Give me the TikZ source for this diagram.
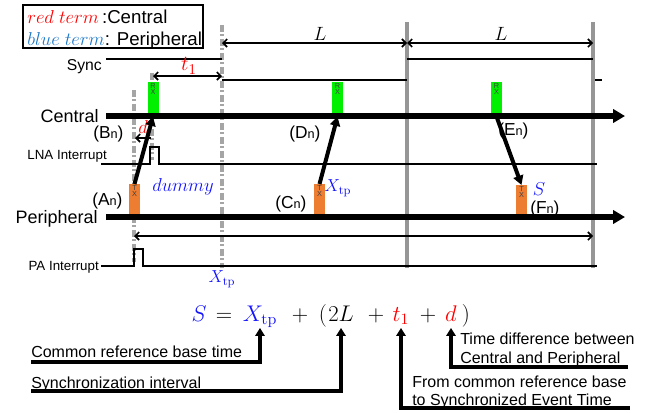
\RequirePackage{fix-cm}
\documentclass[tikz,border=0pt]{standalone}
\usepackage[no-math]{fontspec}
\setmainfont{Liberation Sans}
\usetikzlibrary{arrows.meta}
\definecolor{rxgreen}{RGB}{0,240,0}
\definecolor{txorange}{RGB}{237,125,49}
\definecolor{lgblue}{RGB}{30,120,200}
\definecolor{eqblue}{RGB}{20,20,255}
\definecolor{dgray}{RGB}{165,165,165}
\definecolor{sgray}{RGB}{150,150,150}
\newcommand{\myfs}[2]{\fontsize{#1}{#2}\selectfont}
\newcommand{\subn}{{\myfs{9.5}{10}n}}
\begin{document}
\begin{tikzpicture}[x=0.75pt,y=-0.75pt,
  timeline/.style={line width=3.8pt,-{Triangle[length=9pt,width=10pt]}},
  thinline/.style={line width=1.3pt},
  dimarrow/.style={line width=1.2pt,{Straight Barb[length=3pt,width=6pt]}-{Straight Barb[length=3pt,width=6pt]}},
  leftarrow/.style={line width=1.2pt,-{Straight Barb[length=3pt,width=6pt]}},
  dashgray/.style={draw=dgray,line width=2.3pt,dash pattern=on 5pt off 2pt on 1.5pt off 2pt},
  solidgray/.style={draw=sgray,line width=2.3pt},
  rxbox/.style={fill=rxgreen,minimum width=8.25pt,minimum height=25.5pt,anchor=north,inner sep=0pt},
  txbox/.style={fill=txorange,minimum width=8.25pt,minimum height=24.75pt,anchor=north,inner sep=0pt},
  boxtext/.style={font=\myfs{5.5}{5},text=black!75,align=center,inner sep=0.6pt,anchor=north},
  bigarrow/.style={line width=3pt,-{Triangle[length=7pt,width=7.5pt]}},
  annarrow/.style={line width=3pt,-{Triangle[length=6pt,width=7pt]}},
  lanelabel/.style={font=\myfs{13.5}{15},anchor=base east,inner sep=0pt},
  siglabel/.style={font=\myfs{10}{11},anchor=base east,inner sep=0pt},
  ptlabel/.style={font=\myfs{13}{14},anchor=base west,inner sep=0pt},
  annotext/.style={font=\myfs{12}{13},anchor=base west,inner sep=0pt},
  legtext/.style={font=\myfs{14}{15},anchor=base west,inner sep=0pt},
  eqterm/.style={font=\myfs{17}{19},anchor=base,inner sep=0.5pt,text depth=4.5pt}
]
\useasboundingbox (0,0) rectangle (649,412);

% legend
\draw[line width=1.5pt] (23,5) rectangle (203,48);
\node[legtext] (leg1) at (27,23) {\textcolor{red}{$red\ term$}\,:Central};
\node[legtext] (leg2) at (27,45) {\textcolor{lgblue}{$blue\ term$}: Peripheral};

% vertical reference lines
\draw[dashgray] (134,90) -- (134,262);
\draw[dashgray] (152,73) -- (152,160);
\draw[dashgray] (222,25) -- (222,268);
\draw[solidgray] (407,22) -- (407,268);
\draw[solidgray] (593,22) -- (593,268);

% sync signal
\node[font=\myfs{11.8}{13},anchor=base east,inner sep=0pt] (sync) at (102,70) {Sync};
\draw[thinline] (106,59) -- (222,59);
\draw[thinline] (222,80) -- (407,80);
\draw[thinline] (407,59) -- (593,59);
\draw[thinline] (595,80) -- (602,80);

% dimensions
\coordinate (L1a) at (222,43); \coordinate (L1b) at (407,43); \coordinate (L2b) at (593,43);
\draw[dimarrow] (L1a) -- (L1b);
\draw[dimarrow] (L1b) -- (L2b);
\node[font=\myfs{14.4}{15}] (Llab1) at (320,34) {$L$};
\node[font=\myfs{14.4}{15}] (Llab2) at (501,34) {$L$};
\coordinate (t1a) at (153,76); \coordinate (t1b) at (222,76);
\draw[dimarrow] (t1a) -- (t1b);
\node[font=\myfs{16}{17},text=red] (t1lab) at (189,66) {$t_1$};
\coordinate (da) at (151,138); \coordinate (db) at (135,138);
\draw[leftarrow] (da) -- (db);
\node[font=\myfs{14}{15},text=red] (dlab) at (143,127) {$d$};
\coordinate (ba) at (134,236); \coordinate (bb) at (593,236);
\draw[dimarrow] (ba) -- (bb);

% interrupt signals
\node[siglabel] (lna) at (107,159) {LNA Interrupt};
\draw[thinline] (101,164) -- (150,164) -- (150,147) -- (159,147) -- (159,164) -- (597,164);
\node[siglabel] (pa) at (99,270) {PA Interrupt};
\draw[thinline] (101,266) -- (134,266) -- (134,249) -- (143,249) -- (143,266) -- (597,266);

% boxes
\node[rxbox,label={[boxtext]north:{R\\X}}] (rx1) at (153,82) {};
\node[rxbox,label={[boxtext]north:{R\\X}}] (rx2) at (337.5,82) {};
\node[rxbox,label={[boxtext]north:{R\\X}}] (rx3) at (496.5,82) {};
\node[txbox,label={[boxtext]north:{T\\X}}] (tx1) at (134.5,184) {};
\node[txbox,label={[boxtext]north:{T\\X}}] (tx2) at (319.5,184) {};
\node[txbox,label={[boxtext]north:{T\\X}}] (tx3) at (521.5,185) {};

% timelines
\node[lanelabel] (central) at (99,122) {Central};
\node[lanelabel] (periph) at (98,223) {Peripheral};
\draw[timeline] (106,116) -- (625,116);
\draw[timeline] (106,217) -- (625,217);

% messages
\draw[bigarrow] (tx1.north) -- (rx1.south);
\draw[bigarrow] (tx2.north) -- (rx2.south);
\draw[bigarrow] (rx3.south) -- (tx3.north);

% point labels
\node[ptlabel] (Bn) at (93,138) {(B\subn)};
\node[ptlabel] (An) at (92,205) {(A\subn)};
\node[ptlabel] (Dn) at (289,138) {(D\subn)};
\node[ptlabel] (Cn) at (275,208) {(C\subn)};
\node[ptlabel] (En) at (498,135) {(E\subn)};
\node[ptlabel] (Fn) at (530,213) {(F\subn)};
\node[font=\myfs{14}{15},text=eqblue] (dummy) at (183,187) {$dummy$};
\node[font=\myfs{13}{14},text=eqblue] (xtpC) at (338,188) {$X_{\mathrm{tp}}$};
\node[font=\myfs{14}{15},text=eqblue] (sF) at (539,189) {$S$};
\node[font=\myfs{13}{14},text=eqblue] (xtpB) at (222,279) {$X_{\mathrm{tp}}$};

% equation
\node[eqterm,text=eqblue] (eqS) at (199,321) {$S$};
\node[eqterm] (eqEq) at (224,321) {$=$};
\node[eqterm,text=eqblue] (eqX) at (260,321) {$X_{\mathrm{tp}}$};
\node[eqterm] (eqP1) at (300,321) {$+$};
\node[eqterm] (eqOpen) at (323,321) {$($};
\node[eqterm] (eqTwoL) at (341,321) {$2L$};
\node[eqterm] (eqP2) at (376,321) {$+$};
\node[eqterm,text=red] (eqT) at (401,321) {$t_1$};
\node[eqterm] (eqP3) at (428,321) {$+$};
\node[eqterm,text=red] (eqD) at (451,321) {$d$};
\node[eqterm] (eqClose) at (466,321) {$)$};

% annotations
\node[annotext] (ann1) at (31,357) {Common reference base time};
\node[annotext] (ann2) at (31,388) {Synchronization interval};
\node[annotext] (ann3a) at (412,387) {From common reference base};
\node[annotext] (ann3b) at (412,405) {to Synchronized Event Time};
\node[annotext] (ann4a) at (460,344) {Time difference between};
\node[annotext] (ann4b) at (460,363) {Central and Peripheral};
\coordinate (a1) at (31,362);
\coordinate (a2) at (31,391);
\coordinate (a3) at (630,408);
\coordinate (a4) at (628,367);
\draw[annarrow] (a1) -| (eqX.south);
\draw[annarrow] (a2) -| (eqTwoL.south);
\draw[annarrow] (a3) -| (eqT.south);
\draw[annarrow] (a4) -| (eqD.south);
\end{tikzpicture}
\end{document}
